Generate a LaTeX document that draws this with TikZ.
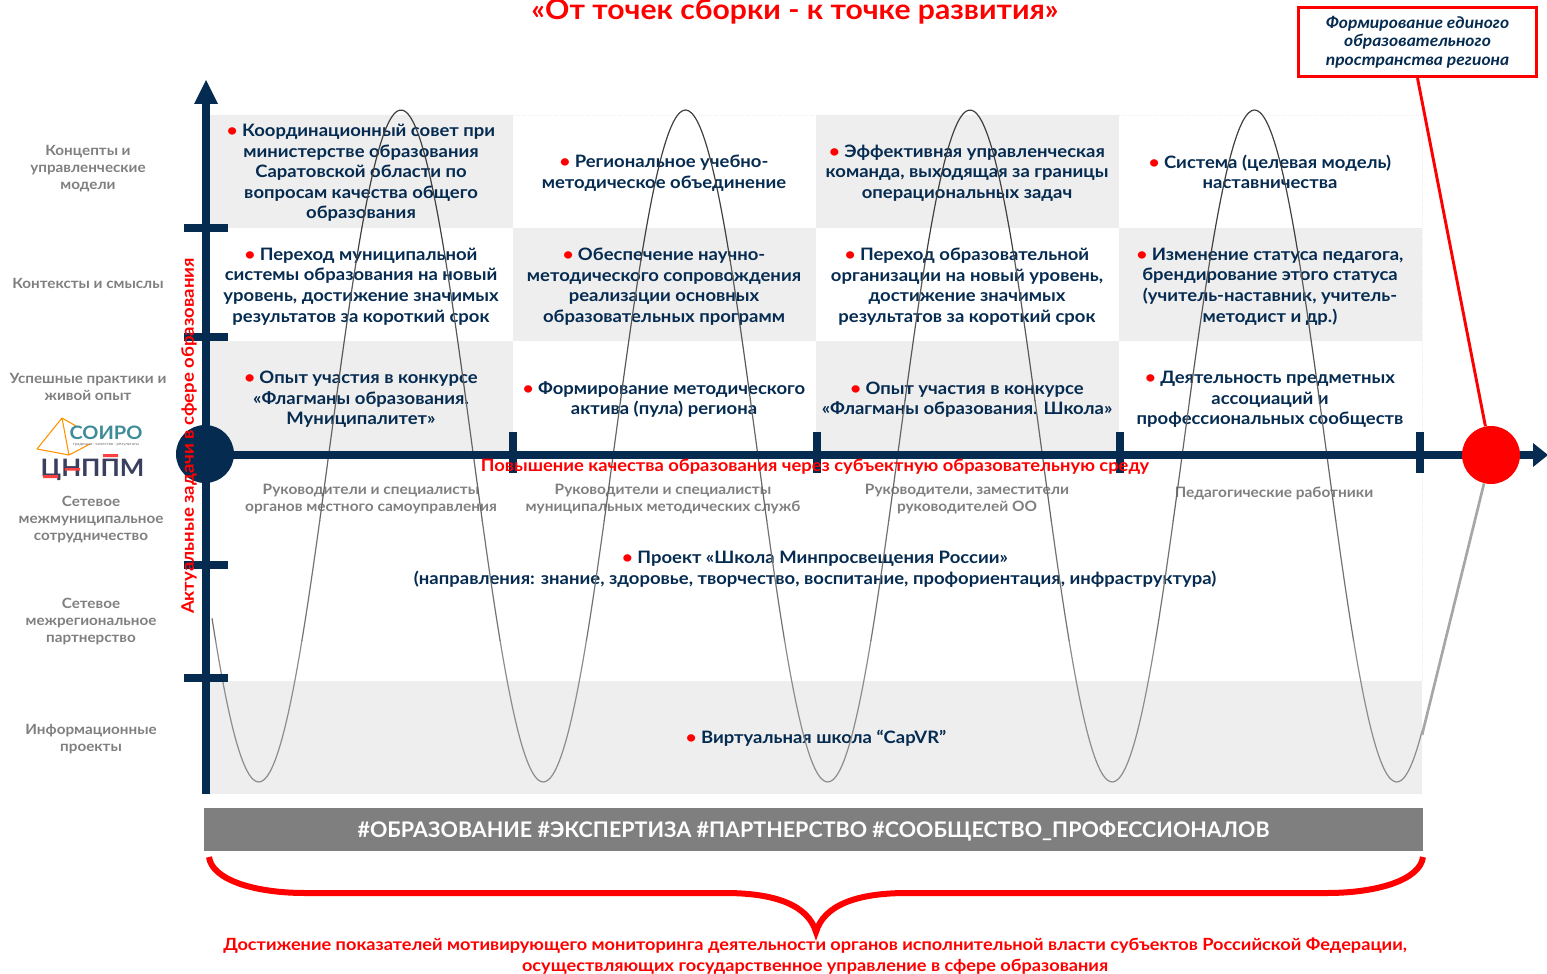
\documentclass[tikz,border=0pt]{standalone}
\usepackage{fontspec}
\setmainfont[FakeStretch=1.08]{Lato}
\newfontfamily\barfont{Lato}
\usetikzlibrary{arrows.meta}
\definecolor{navy}{HTML}{052B50}
\definecolor{tile}{HTML}{EEEEEE}
\definecolor{lab}{HTML}{7F7F7F}
\definecolor{redd}{HTML}{FF0000}
\definecolor{teal2}{HTML}{3D8C98}
\definecolor{ink}{HTML}{3A3F5E}
\newcommand{\setpx}[2]{\fontsize{\dimexpr#1pt*3/4\relax}{\dimexpr#2pt*3/4\relax}\selectfont}
\newcommand{\bul}{\textcolor{redd}{•}~}
\tikzset{
 body/.style={font=\setpx{17.1}{20.6}\bfseries,text=navy,align=center,inner sep=0pt},
 side/.style={font=\setpx{14.1}{17}\bfseries,text=lab,align=center,inner sep=0pt},
 sub/.style={font=\setpx{14.3}{17}\bfseries,text=lab,align=center,inner sep=0pt},
 axis/.style={navy,line width=6pt},
 tick/.style={navy,line width=5.5pt},
 redtext/.style={font=\setpx{17}{20.5}\bfseries,text=redd,align=center,inner sep=0pt},
 dot/.style={circle,inner sep=0pt,minimum size=43.5pt},
}
\begin{document}
\begin{tikzpicture}[x=0.75pt,y=-0.75pt]
\useasboundingbox (0,0) rectangle (1547,974);
% tiles
\foreach \xa/\ya in {210/115,816/115,513/228,1119/228,210/341,816/341}
  \fill[tile] (\xa,\ya) rectangle +(303,113);
\fill[tile] (210,681) rectangle (1422,794);
\draw[tile,densely dotted,line width=0.6pt] (513,115) -- (816,115) (1119,115) -- (1422,115) -- (1422,681);
% texts
\node[body] (a1) at (361,173) {\bul Координационный совет при\\министерстве образования\\Саратовской области по\\вопросам качества общего\\образования};
\node[body] (a2) at (664,173) {\bul Региональное учебно-\\методическое объединение};
\node[body] (a3) at (967,173) {\bul Эффективная управленческая\\команда, выходящая за границы\\операциональных задач};
\node[body] (a4) at (1270,172) {\bul Система (целевая модель)\\наставничества};
\node[body] (b1) at (361,286.5) {\bul Переход муниципальной\\системы образования на новый\\уровень, достижение значимых\\результатов за короткий срок};
\node[body] (b2) at (664,286.5) {\bul Обеспечение научно-\\методического сопровождения\\реализации основных\\образовательных программ};
\node[body] (b3) at (967,286.5) {\bul Переход образовательной\\организации на новый уровень,\\достижение значимых\\результатов за короткий срок};
\node[body] (b4) at (1270,286.5) {\bul Изменение статуса педагога,\\брендирование этого статуса\\(учитель-наставник, учитель-\\методист и др.)};
\node[body] (c1) at (361,399.5) {\bul Опыт участия в конкурсе\\«Флагманы образования.\\Муниципалитет»};
\node[body] (c2) at (664,399.5) {\bul Формирование методического\\актива (пула) региона};
\node[body] (c3) at (967,399.5) {\bul Опыт участия в конкурсе\\«Флагманы образования. Школа»};
\node[body] (c4) at (1270,399.5) {\bul Деятельность предметных\\ассоциаций и\\профессиональных сообществ};
\node[body] (d) at (815,569.5) {\bul Проект «Школа Минпросвещения России»\\(направления: знание, здоровье, творчество, воспитание, профориентация, инфраструктура)};
\node[body] (e) at (816,738.5) {\bul Виртуальная школа “CapVR”};
\node[sub] (s1) at (371,499) {Руководители и специалисты\\органов местного самоуправления};
\node[sub] (s2) at (663,499) {Руководители и специалисты\\муниципальных методических служб};
\node[sub] (s3) at (967,499) {Руководители, заместители\\руководителей ОО};
\node[sub] (s4) at (1274,494) {Педагогические работники};
% curve
\foreach \ya/\yb/\c in {100/260/75,260/400/65,400/520/60,520/640/55,640/800/45}{
 \begin{scope}
 \clip (200,\ya) rectangle (1430,\yb);
 \draw[black!\c,line width=0.9pt,smooth] plot[domain=212:1422,samples=420] (\x,{446-336*cos((\x-401)/284.5*360)});
 \end{scope}
}
% side labels
\node[side] (l1) at (88,169) {Концепты и\\управленческие\\модели};
\node[side] (l2) at (88,283) {Контексты и смыслы};
\node[side] (l3) at (88,387) {Успешные практики и\\живой опыт};
\node[side] (l4) at (91,520) {Сетевое\\межмуниципальное\\сотрудничество};
\node[side] (l5) at (91,622) {Сетевое\\межрегиональное\\партнерство};
\node[side] (l6) at (91,739) {Информационные\\проекты};
% logo
\draw[orange!85!yellow,line width=0.8pt,line join=round] (62,418) -- (37,449) -- (69,455) -- (90,444) (62,418) -- (69,455) (62,418) -- (76,426);
\node[inner sep=0pt,text=teal2,font=\setpx{18.5}{18.5}\bfseries] (soiro) at (106,433) {СОИРО};
\node[inner sep=0pt,text=black!55,font=\setpx{4}{4}] (tagline) at (106,444.5) {традиции · качество · результаты};
\node[inner sep=0pt,text=ink,font=\setpx{24}{24}\bfseries] (cnppm) at (92.5,470) {ЦНППМ};
\fill[redd!75] (43,475) rectangle (58,478) (65,468) rectangle (80,470.5) (103,454) rectangle (118,457);
% axes
\draw[axis] (206,100) -- (206,794);
\fill[navy] (206,80) -- (218,104) -- (194,104) -- cycle;
\draw[axis] (205,454.5) -- (1534,454.5);
\fill[navy] (1548,455) -- (1533,443) -- (1533,467) -- cycle;
\foreach \y in {228,337,565,678} \draw[tick] (184,\y) -- (228,\y);
\foreach \x in {513,817,1120,1420} \draw[tick] (\x,432) -- (\x,473);
\node[dot,fill=navy] (origin) at (205,454) {};
\node[dot,fill=redd] (goal) at (1491,455) {};
% box and connectors
\node[draw=redd,line width=2.2pt,minimum width=178pt,minimum height=52pt,inner sep=0pt,align=center,text=navy,font=\setpx{16.2}{18.7}\bfseries\itshape] (box) at (1417.5,42) {Формирование единого\\образовательного\\пространства региона};
\coordinate (boxfoot) at (box.south);
\draw[redd,line width=2.2pt] (boxfoot) -- (goal);
\coordinate (endc) at (1422,735);
\draw[black!35,line width=2pt] (goal) -- (endc);
% red labels
\node[redtext,font=\setpx{27.9}{28}\bfseries] (title) at (795,12) {«От точек сборки - к точке развития»};
\node[redtext,font=\setpx{17}{19}\bfseries] (mid) at (815,467) {Повышение качества образования через субъектную образовательную среду};
\node[redtext,font=\setpx{17.2}{19}\bfseries,rotate=90] (vert) at (189,436) {Актуальные задачи в сфере образования};
% bar
\node[fill=lab,minimum width=914pt,minimum height=32pt,inner sep=0pt,text=white,text depth=0pt,font=\barfont\setpx{21.5}{22}\bfseries] (bar) at (813.5,829.5) {\#ОБРАЗОВАНИЕ \#ЭКСПЕРТИЗА \#ПАРТНЕРСТВО \#СООБЩЕСТВО\_ПРОФЕССИОНАЛОВ};
% brace
\draw[redd,line width=4.5pt] (209,857) .. controls (212,880) and (255,893) .. (305,893) -- (725,893) .. controls (775,893) and (808,905) .. (816,932) .. controls (824,905) and (857,893) .. (907,893) -- (1327,893) .. controls (1377,893) and (1420,880) .. (1423,857);
\node[redtext,font=\setpx{16.8}{20.5}\bfseries] (foot) at (815,956) {Достижение показателей мотивирующего мониторинга деятельности органов исполнительной власти субъектов Российской Федерации,\\осуществляющих государственное управление в сфере образования};
\end{tikzpicture}
\end{document}
